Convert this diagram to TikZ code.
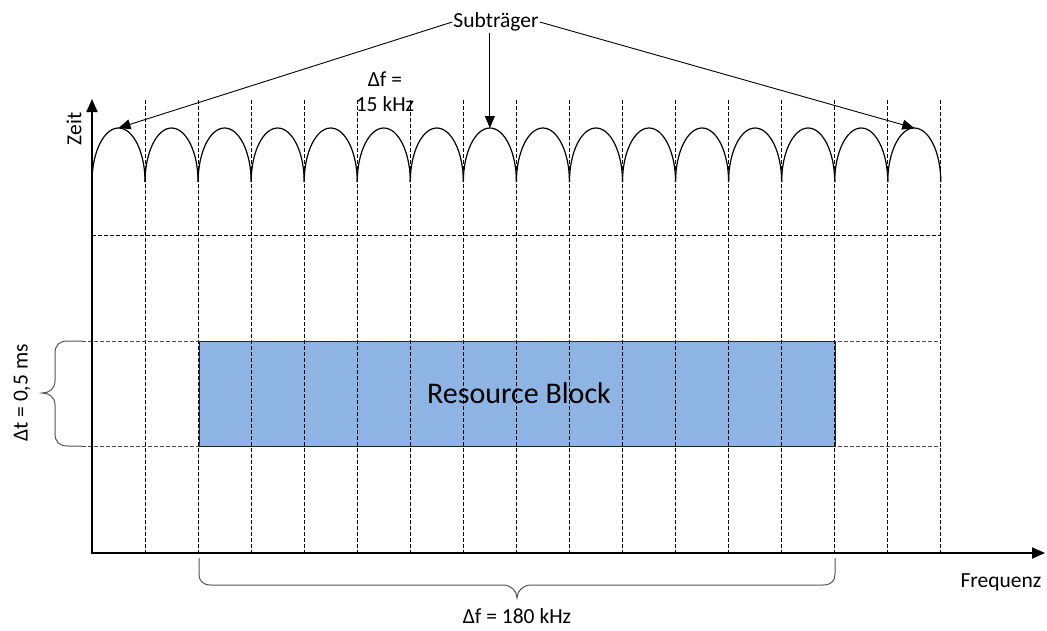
\documentclass[tikz,border=0pt]{standalone}
\usepackage{fontspec}
\setmainfont{Carlito}
\usetikzlibrary{arrows.meta}
\definecolor{rbfill}{HTML}{8EB4E3}
\definecolor{bracegray}{HTML}{555555}
\begin{document}
\begin{tikzpicture}[x=1pt,y=-1pt,
  grid/.style={black, line width=0.8pt, dash pattern=on 3.5pt off 2.5pt},
  gridgray/.style={black!70, line width=0.9pt, dash pattern=on 3.5pt off 2.5pt},
  axis/.style={black, line width=1.8pt, -{Triangle[length=13pt,width=11pt]}},
  lobe/.style={black, line width=1.2pt},
  pointer/.style={black, line width=0.9pt, -{Triangle[length=12pt,width=10pt]}},
  bracestyle/.style={bracegray, line width=1pt},
  lbl/.style={inner sep=1pt, font=\fontsize{21.5}{25}\selectfont},
  block/.style={draw=black!85, line width=1.2pt, fill=rbfill}
]
\useasboundingbox (0,0) rectangle (1047,630);

% resource block fill
\fill[rbfill] (199,341) rectangle (835,446);

% dashed grid
\foreach \k in {1,...,16}{
  \draw[grid] ({92+53.05*\k},100) -- ({92+53.05*\k},553);
}
\draw[grid] (92,235) -- (941,235);
\draw[gridgray] (82,341) -- (941,341);
\draw[gridgray] (82,446) -- (941,446);

% resource block outline and label
\node[block, fill=none, minimum width=636pt, minimum height=105pt, inner sep=0pt,
      anchor=north west] (rb) at (199,341) {};
\node[font=\fontsize{30}{34}\selectfont] (rbl) at (519,393) {Resource Block};

% subcarrier lobes
\foreach \k in {0,...,15}{
  \draw[lobe] ({92+53.05*\k},182) arc[start angle=180, end angle=0, x radius=26.525pt, y radius=54pt];
  \coordinate (p\k) at ({92+53.05*\k+26.525},128);
}

% axes
\coordinate (origin) at (92,553);
\coordinate (ytip) at (92,99);
\coordinate (xtip) at (1045,553);
\draw[axis] (origin) -- (ytip);
\draw[axis, shorten <=-0.9pt] (origin) -- (xtip);

% axis labels
\node[lbl, rotate=90] (zeit) at (74,129) {Zeit};
\node[lbl] (freq) at (1001,582) {Frequenz};

% Subtraeger pointers
\node[lbl] (sub) at (496,22) {Subträger};
\draw[pointer] (sub.west) -- (p0);
\draw[pointer] (sub.east) -- (p15);
\draw[pointer] (sub.south -| p7) -- (p7);

% spacing label
\node[lbl, align=center] (df15) at (385,92) {Δf =\\15 kHz};

% left brace
\coordinate (lb1) at (82,341);
\coordinate (lb2) at (82,446);
\draw[bracestyle] (lb1) -- (68,341) .. controls (59,341) and (55,345) .. (55,354)
   -- (55,381) .. controls (55,389) and (49,393) .. (42,393)
   .. controls (49,393) and (55,397) .. (55,405)
   -- (55,433) .. controls (55,442) and (59,446) .. (68,446) -- (lb2);
\node[lbl, rotate=90] (dt) at (22,393) {Δt = 0,5 ms};

% bottom brace
\coordinate (bb1) at (199,558);
\coordinate (bb2) at (835,558);
\draw[bracestyle] (bb1) -- (199,574) .. controls (199,581) and (203,585) .. (211,585)
   -- (503,585) .. controls (511,585) and (517,591) .. (517,598)
   .. controls (517,591) and (523,585) .. (531,585)
   -- (823,585) .. controls (831,585) and (835,581) .. (835,574) -- (bb2);
\node[lbl, anchor=base] (df180) at (517,623) {Δf = 180 kHz};

\end{tikzpicture}
\end{document}
